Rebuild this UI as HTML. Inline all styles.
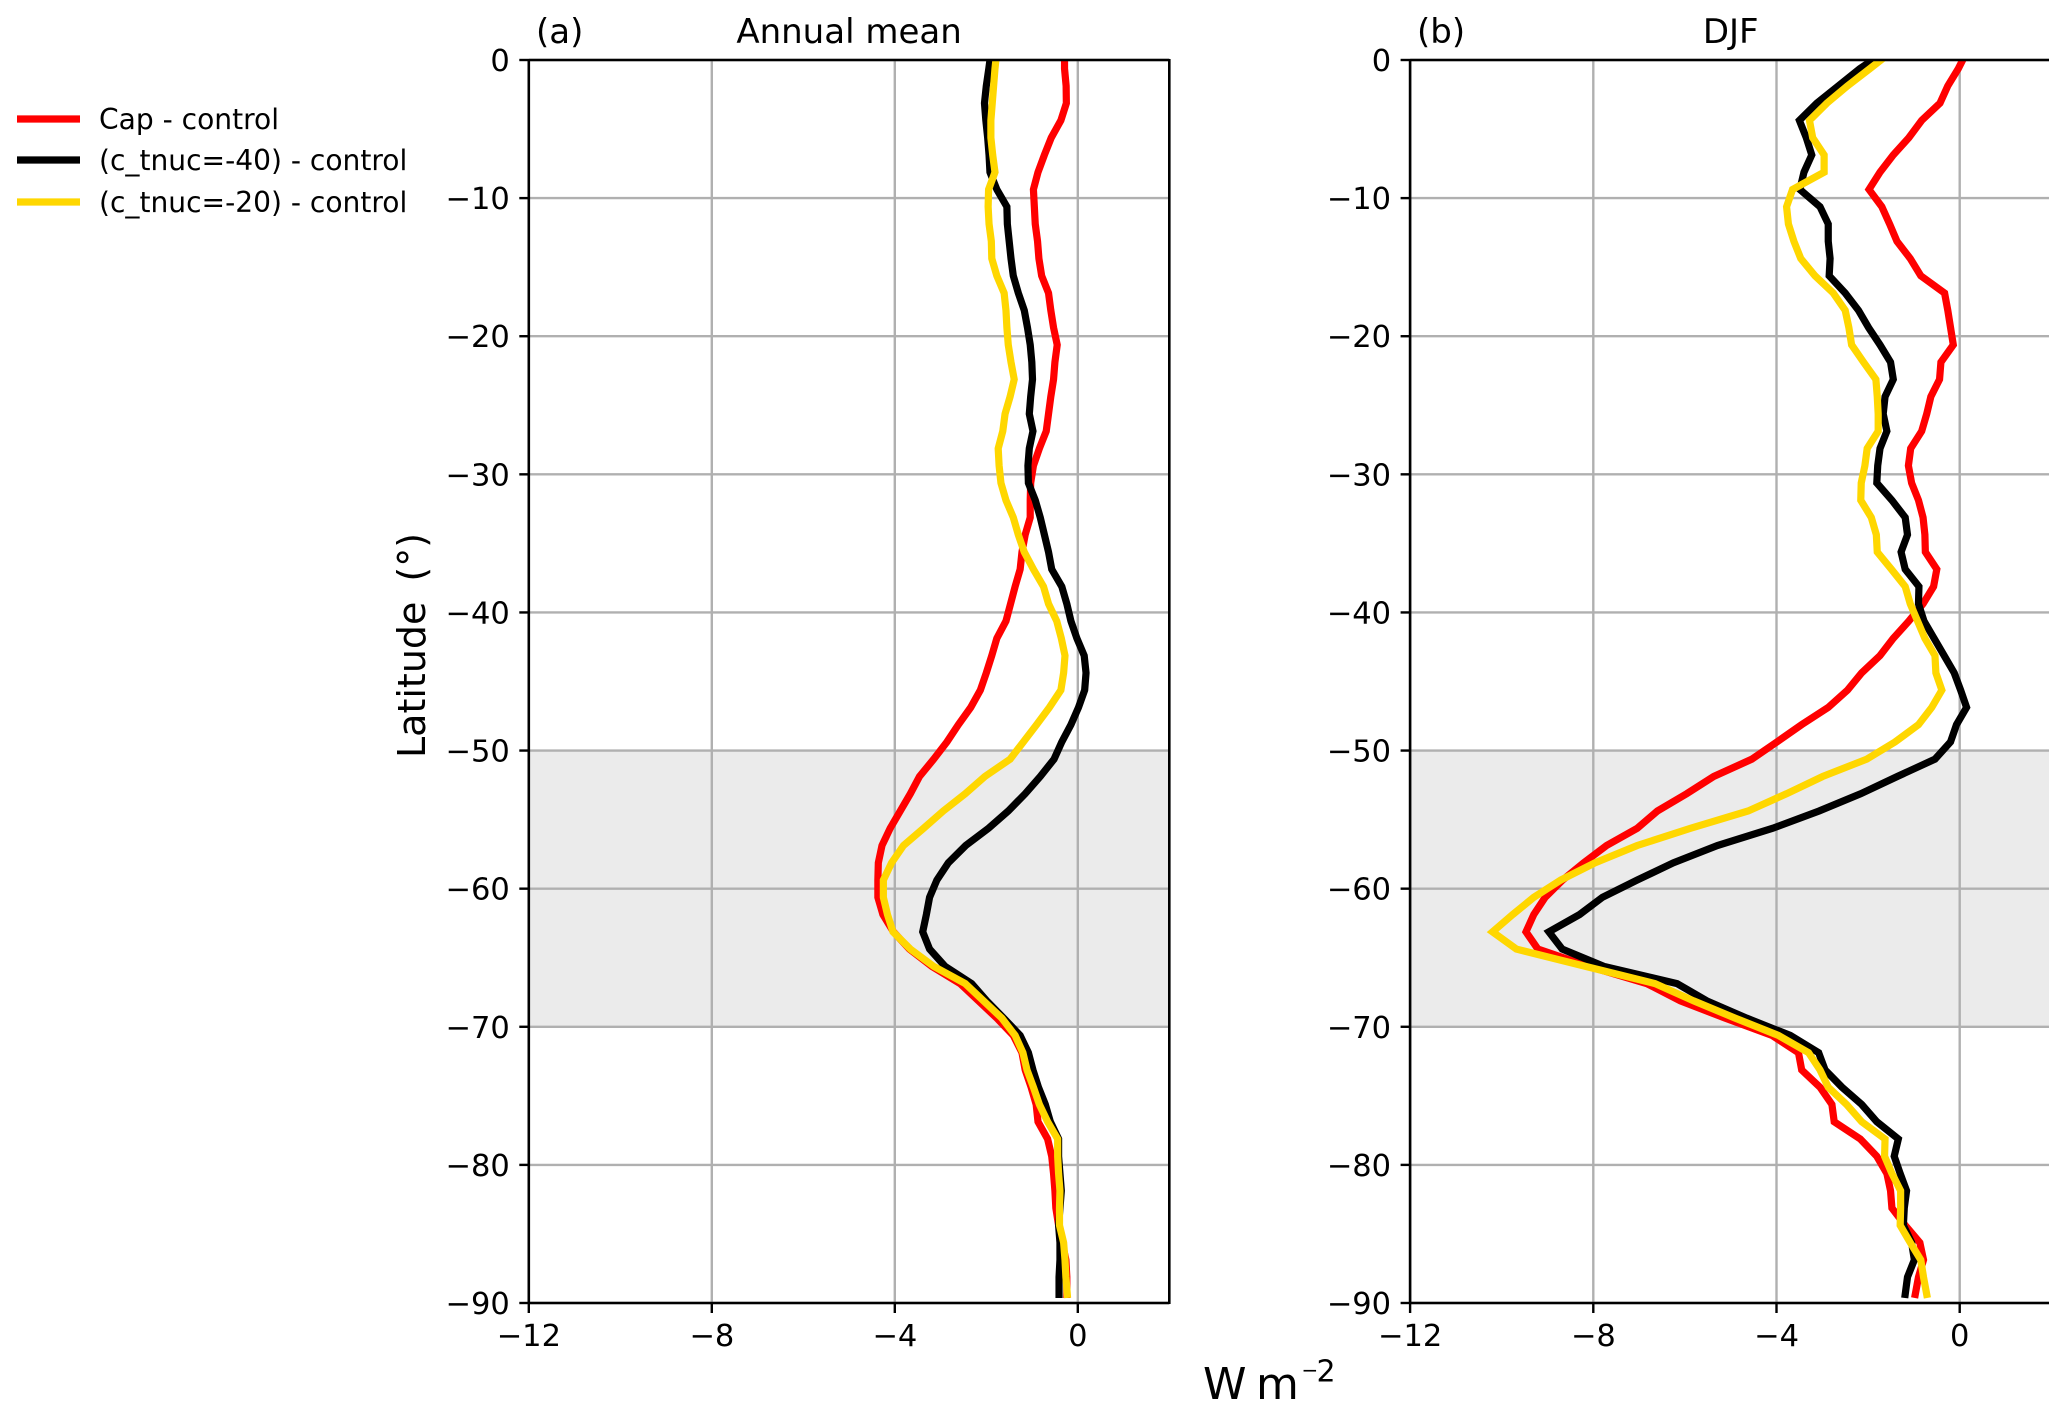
<!DOCTYPE html>
<html lang="en">
<head>
<meta charset="utf-8">
<title>Annual mean and DJF radiative flux differences by latitude</title>
<style>
  html, body { margin: 0; padding: 0; background: #fff; }
  #figure { display: block; width: 2067px; height: 1417px; }
  text { font-family: "DejaVu Sans", "Liberation Sans", sans-serif; fill: #000; }
</style>
</head>
<body>
<svg id="figure" xmlns="http://www.w3.org/2000/svg" width="2067" height="1417" viewBox="0 0 2067 1417">
  <rect x="0" y="0" width="2067" height="1417" fill="#ffffff"/>
  <defs>
    <clipPath id="clip-a"><rect x="528.8" y="60" width="640.5" height="1243"/></clipPath>
    <clipPath id="clip-b"><rect x="1410.1" y="60" width="638.9" height="1243"/></clipPath>
  </defs>
  <g id="panel-a"></g>
  <g id="panel-b"></g>

  <g>
    <line x1="17" y1="119" x2="80" y2="119" stroke="#ff0000" stroke-width="7.2"/>
    <text x="99" y="129" font-size="28.1">Cap - control</text>
    <line x1="17" y1="160" x2="80" y2="160" stroke="#000000" stroke-width="7.2"/>
    <text x="99" y="170" font-size="28.1">(c_tnuc=-40) - control</text>
    <line x1="17" y1="202" x2="80" y2="202" stroke="#ffd700" stroke-width="7.2"/>
    <text x="99" y="212" font-size="28.1">(c_tnuc=-20) - control</text>
  </g>

  <text transform="translate(425 758) rotate(-90)" font-size="38">Latitude<tspan dx="20">(°)</tspan></text>
  <text y="1399" font-size="44"><tspan x="1203">W</tspan><tspan x="1256">m</tspan><tspan x="1301.5" y="1377" font-size="20">−</tspan><tspan x="1316.5" y="1381.7" font-size="30">2</tspan></text>
</svg>

<script>
// Shared latitude samples (degrees)
const latitudes = [0,-0.625,-1.875,-3.125,-4.375,-5.625,-6.875,-8.125,-9.375,-10.625,-11.875,-13.125,-14.375,-15.625,-16.875,-18.125,-19.375,-20.625,-21.875,-23.125,-24.375,-25.625,-26.875,-28.125,-29.375,-30.625,-31.875,-33.125,-34.375,-35.625,-36.875,-38.125,-39.375,-40.625,-41.875,-43.125,-44.375,-45.625,-46.875,-48.125,-49.375,-50.625,-51.875,-53.125,-54.375,-55.625,-56.875,-58.125,-59.375,-60.625,-61.875,-63.125,-64.375,-65.625,-66.875,-68.125,-69.375,-70.625,-71.875,-73.125,-74.375,-75.625,-76.875,-78.125,-79.375,-80.625,-81.875,-83.125,-84.375,-85.625,-86.875,-88.125,-89.375];

// Panel (a) Annual mean, W m-2
const annualCap = [-0.29,-0.29,-0.255,-0.25,-0.37,-0.58,-0.73,-0.87,-0.97,-0.95,-0.93,-0.88,-0.85,-0.79,-0.64,-0.59,-0.53,-0.45,-0.50,-0.53,-0.59,-0.64,-0.69,-0.84,-0.97,-1.03,-1.04,-1.04,-1.15,-1.22,-1.26,-1.37,-1.47,-1.57,-1.77,-1.88,-2.00,-2.13,-2.34,-2.61,-2.86,-3.15,-3.46,-3.66,-3.88,-4.10,-4.28,-4.36,-4.37,-4.37,-4.26,-4.03,-3.68,-3.19,-2.57,-2.17,-1.77,-1.41,-1.22,-1.15,-1.02,-0.91,-0.87,-0.66,-0.57,-0.53,-0.50,-0.48,-0.42,-0.34,-0.26,-0.24,-0.24];
const annualTnuc40 = [-1.92,-1.945,-2.0,-2.04,-2.01,-1.97,-1.94,-1.92,-1.77,-1.55,-1.54,-1.50,-1.46,-1.41,-1.30,-1.17,-1.10,-1.04,-1.005,-0.99,-1.03,-1.06,-0.98,-1.06,-1.09,-1.08,-0.93,-0.82,-0.73,-0.64,-0.57,-0.35,-0.24,-0.15,-0.02,0.14,0.18,0.15,0.015,-0.15,-0.35,-0.52,-0.82,-1.15,-1.52,-1.95,-2.45,-2.83,-3.08,-3.24,-3.31,-3.39,-3.24,-2.90,-2.32,-1.99,-1.62,-1.26,-1.08,-0.98,-0.86,-0.71,-0.60,-0.42,-0.42,-0.39,-0.36,-0.39,-0.42,-0.39,-0.39,-0.41,-0.41];
const annualTnuc20 = [-1.79,-1.81,-1.84,-1.87,-1.90,-1.90,-1.86,-1.81,-1.95,-1.96,-1.94,-1.89,-1.88,-1.77,-1.61,-1.57,-1.55,-1.52,-1.46,-1.39,-1.48,-1.59,-1.64,-1.74,-1.72,-1.68,-1.57,-1.41,-1.30,-1.17,-0.97,-0.75,-0.64,-0.46,-0.36,-0.28,-0.31,-0.37,-0.62,-0.90,-1.19,-1.48,-2.03,-2.46,-2.94,-3.37,-3.81,-4.07,-4.25,-4.25,-4.16,-4.04,-3.66,-3.15,-2.46,-2.06,-1.66,-1.37,-1.20,-1.11,-0.97,-0.84,-0.66,-0.44,-0.44,-0.42,-0.39,-0.40,-0.40,-0.31,-0.28,-0.26,-0.23];

// Panel (b) DJF, W m-2
const djfCap = [0.065,-0.03,-0.26,-0.43,-0.83,-1.11,-1.45,-1.74,-1.98,-1.70,-1.53,-1.37,-1.08,-0.85,-0.33,-0.26,-0.20,-0.14,-0.41,-0.44,-0.63,-0.72,-0.83,-1.07,-1.12,-1.05,-0.90,-0.80,-0.76,-0.75,-0.50,-0.57,-0.80,-1.11,-1.45,-1.74,-2.14,-2.45,-2.87,-3.45,-3.99,-4.54,-5.37,-5.96,-6.60,-7.04,-7.71,-8.21,-8.67,-9.05,-9.30,-9.47,-9.21,-8.10,-6.83,-6.10,-5.12,-4.10,-3.52,-3.45,-3.05,-2.79,-2.74,-2.17,-1.81,-1.59,-1.51,-1.48,-1.19,-0.87,-0.79,-0.90,-0.97];
const djfTnuc40 = [-1.90,-2.18,-2.65,-3.12,-3.50,-3.35,-3.23,-3.40,-3.49,-3.05,-2.87,-2.87,-2.83,-2.85,-2.50,-2.21,-1.99,-1.74,-1.51,-1.45,-1.63,-1.67,-1.59,-1.74,-1.79,-1.81,-1.48,-1.19,-1.14,-1.28,-1.19,-0.89,-0.90,-0.78,-0.56,-0.34,-0.12,0.02,0.15,-0.07,-0.20,-0.54,-1.36,-2.16,-3.07,-4.08,-5.29,-6.25,-7.04,-7.80,-8.30,-8.97,-8.68,-7.77,-6.17,-5.52,-4.65,-3.70,-3.08,-2.94,-2.57,-2.14,-1.81,-1.34,-1.43,-1.30,-1.16,-1.21,-1.23,-1.05,-0.99,-1.14,-1.19];
const djfTnuc20 = [-1.72,-1.96,-2.45,-2.90,-3.28,-3.21,-2.96,-2.96,-3.65,-3.78,-3.74,-3.62,-3.47,-3.16,-2.76,-2.50,-2.42,-2.36,-2.10,-1.83,-1.80,-1.78,-1.78,-2.02,-2.07,-2.15,-2.16,-1.93,-1.82,-1.80,-1.49,-1.19,-1.08,-0.92,-0.76,-0.54,-0.52,-0.39,-0.61,-0.90,-1.41,-2.03,-2.99,-3.78,-4.62,-5.87,-7.04,-7.96,-8.71,-9.30,-9.76,-10.2,-9.68,-8.17,-6.65,-5.81,-4.90,-3.96,-3.30,-3.05,-2.87,-2.47,-2.14,-1.63,-1.64,-1.48,-1.29,-1.29,-1.30,-1.08,-0.85,-0.79,-0.72];

// Axis ticks and labels
const xTicks = [-12,-8,-4,0];
const xTickLabels = ['\u221212','\u22128','\u22124','0'];
const yTicks = [0,-10,-20,-30,-40,-50,-60,-70,-80,-90];
const yTickLabels = ['0','\u221210','\u221220','\u221230','\u221240','\u221250','\u221260','\u221270','\u221280','\u221290'];
const xDomain = [-12,2];
const yDomain = [0,-90];
const shadedBand = [-50,-70];
const seriesNames = ['cap','tnuc-40','tnuc-20'];
const seriesColors = ['#ff0000','#000000','#ffd700'];

const SVG_NS = 'http://www.w3.org/2000/svg';

function make(tag, parent, attrs) {
  const el = document.createElementNS(SVG_NS, tag);
  for (const k in attrs) el.setAttribute(k, attrs[k]);
  parent.appendChild(el);
  return el;
}

function drawPanel(cfg) {
  const g = document.getElementById(cfg.id);
  const xScale = v => cfg.x0 + (v - xDomain[0]) / (xDomain[1] - xDomain[0]) * (cfg.x1 - cfg.x0);
  const yScale = v => 60 + (v - yDomain[0]) / (yDomain[1] - yDomain[0]) * 1243;

  const band = make('rect', g, {x: cfg.x0, y: yScale(shadedBand[0]), width: cfg.xEnd - cfg.x0, height: yScale(shadedBand[1]) - yScale(shadedBand[0]), fill: '#ebebeb'});
  
  

  xTicks.forEach((t, i) => {
    const grid = make('line', g, {x1: xScale(t), x2: xScale(t), y1: 60, y2: 1303, stroke: '#b0b0b0', 'stroke-width': 2.4});
    
    
  });
  yTicks.forEach((t, i) => {
    const grid = make('line', g, {x1: cfg.x0, x2: cfg.xEnd, y1: yScale(t), y2: yScale(t), stroke: '#b0b0b0', 'stroke-width': 2.4});
    
    
  });

  cfg.series.forEach((vals, s) => {
    const pts = vals.map((v, i) => xScale(v).toFixed(2) + ',' + yScale(latitudes[i]).toFixed(2)).join(' ');
    const line = make('polyline', g, {points: pts, fill: 'none', stroke: seriesColors[s], 'stroke-width': 7.2, 'stroke-linejoin': 'miter', 'stroke-miterlimit': 10, 'stroke-linecap': 'square', 'clip-path': 'url(#' + cfg.clip + ')'});
    
    
  });

  xTicks.forEach((t, i) => {
    const tick = make('line', g, {x1: xScale(t), x2: xScale(t), y1: 1303, y2: 1313, stroke: '#000', 'stroke-width': 2.4});
    
    
    const lab = make('text', g, {x: xScale(t), y: 1346, 'font-size': 30.5, 'text-anchor': 'middle'});
    lab.textContent = xTickLabels[i];
    
    
  });
  yTicks.forEach((t, i) => {
    const tick = make('line', g, {x1: cfg.x0 - 9.5, x2: cfg.x0, y1: yScale(t), y2: yScale(t), stroke: '#000', 'stroke-width': 2.4});
    
    
    const lab = make('text', g, {x: cfg.x0 - 19, y: yScale(t) + 11, 'font-size': 30.5, 'text-anchor': 'end'});
    lab.textContent = yTickLabels[i];
    
    
  });

  const left = make('line', g, {x1: cfg.x0, x2: cfg.x0, y1: 59, y2: 1304, stroke: '#000', 'stroke-width': 2.6});
  
  
  const top = make('line', g, {x1: cfg.x0, x2: cfg.xEnd, y1: 60, y2: 60, stroke: '#000', 'stroke-width': 2.6});
  
  
  const bottom = make('line', g, {x1: cfg.x0, x2: cfg.xEnd, y1: 1303, y2: 1303, stroke: '#000', 'stroke-width': 2.6});
  
  
  if (cfg.rightSpine) {
    const right = make('line', g, {x1: cfg.xEnd, x2: cfg.xEnd, y1: 59, y2: 1304, stroke: '#000', 'stroke-width': 2.6});
    
    
  }

  const letter = make('text', g, {x: cfg.letterX, y: 43, 'font-size': 34});
  letter.textContent = cfg.letter;
  
  
  const title = make('text', g, {x: (cfg.x0 + cfg.x1) / 2, y: 43, 'font-size': 34, 'text-anchor': 'middle'});
  title.textContent = cfg.title;
  
  
}

drawPanel({id: 'panel-a', clip: 'clip-a', x0: 528.8, x1: 1169.3, xEnd: 1169.3, letter: '(a)', letterX: 536, title: 'Annual mean', rightSpine: true, series: [annualCap, annualTnuc40, annualTnuc20]});
drawPanel({id: 'panel-b', clip: 'clip-b', x0: 1410.1, x1: 2051.3, xEnd: 2049, letter: '(b)', letterX: 1417, title: 'DJF', rightSpine: false, series: [djfCap, djfTnuc40, djfTnuc20]});
</script>
</body>
</html>
